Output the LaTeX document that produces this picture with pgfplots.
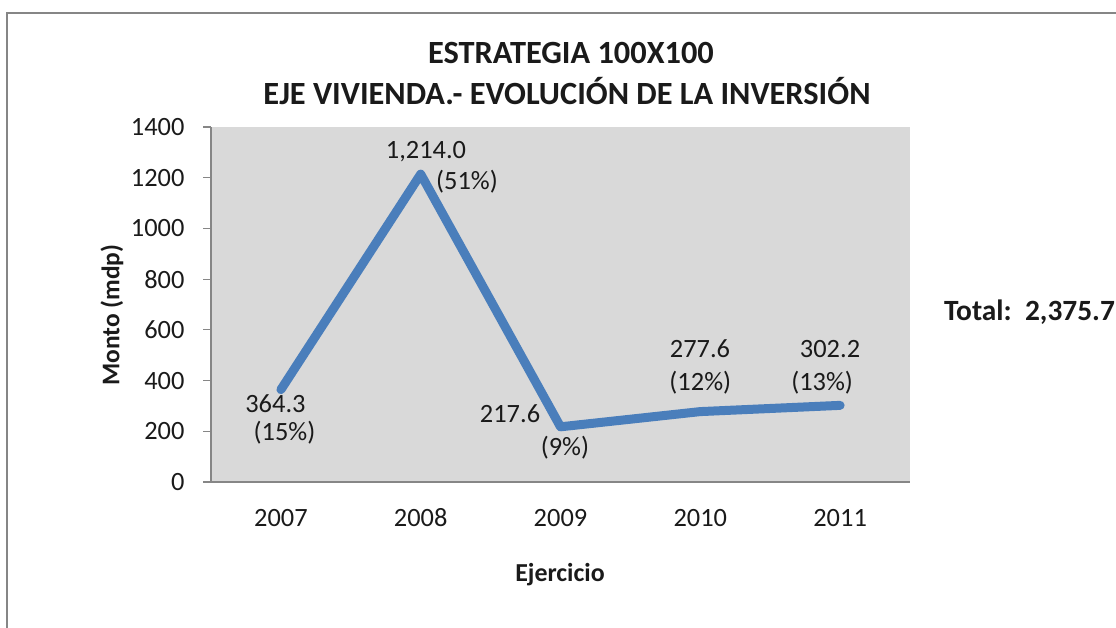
\documentclass[border=0pt]{standalone}
\usepackage{pgfplots}
\pgfplotsset{compat=1.18}
\usepackage{fontspec}
\setmainfont{Carlito}
\definecolor{lineblue}{HTML}{4A7EBB}
\definecolor{plotgray}{HTML}{D9D9D9}
\definecolor{axgray}{HTML}{868686}
\definecolor{txt}{HTML}{1A1A1A}
\begin{document}
\begin{tikzpicture}[x=1bp,y=1bp]
\path[use as bounding box] (0,0) rectangle (1116,628);
\clip (0,0) rectangle (1116,628);
\draw[axgray, line width=2bp] (7,615) rectangle (1140,-20);
\begin{axis}[
  at={(211bp,146bp)}, anchor=south west,
  scale only axis, width=699bp, height=355bp,
  xmin=0.5, xmax=5.5, ymin=0, ymax=1400,
  axis x line*=bottom, axis y line*=left,
  axis line style={axgray, line width=1.2bp},
  axis background/.style={fill=plotgray},
  xtick={1,2,3,4,5},
  xticklabels={2007,2008,2009,2010,2011},
  minor xtick={0.5,1.5,2.5,3.5,4.5,5.5},
  ytick={0,200,...,1400},
  tick align=outside,
  major tick length=8bp, minor tick length=8bp,
  xtick style={draw=none},
  minor x tick style={axgray, line width=1.2bp},
  ytick style={axgray, line width=1.2bp},
  /pgf/number format/1000 sep={},
  /pgf/number format/assume math mode=true,
  tick label style={font=\fontsize{26.5}{30}\selectfont, text=txt},
  yticklabel style={xshift=-15bp},
  xticklabel style={yshift=-15bp, text height=18bp, text depth=0bp, anchor=north},
  clip=false,
]
\addplot[lineblue, line width=9bp, line cap=round, line join=round] coordinates {
  (1,364.3) (2,1214.0) (3,217.6) (4,277.6) (5,302.2)};
\begin{scope}[every node/.style={font=\fontsize{26.5}{30}\selectfont, text=txt, inner sep=0pt}]
\node at (axis cs:0.961,307.6) {364.3};
\node at (axis cs:1.026,193.2) {(15\%)};
\node at (axis cs:2.038,1301) {1,214.0};
\node at (axis cs:2.331,1183) {(51\%)};
\node at (axis cs:2.639,268) {217.6};
\node at (axis cs:3.032,134) {(9\%)};
\node at (axis cs:3.998,524.5) {277.6};
\node at (axis cs:4.0,390) {(12\%)};
\node at (axis cs:4.928,524.5) {302.2};
\node at (axis cs:4.871,390) {(13\%)};
\end{scope}
\end{axis}
\node[font=\bfseries\fontsize{32.5}{38}\selectfont, text=txt] at (571,575) {ESTRATEGIA 100X100};
\node[font=\bfseries\fontsize{32.5}{38}\selectfont, text=txt] at (567,537) {EJE VIVIENDA.- EVOLUCIÓN DE LA INVERSIÓN};
\node[font=\bfseries\fontsize{25.5}{30}\selectfont, text=txt, rotate=90] at (112,313) {Monto (mdp)};
\node[font=\bfseries\fontsize{26}{30}\selectfont, text=txt] at (560,53) {Ejercicio};
\node[font=\bfseries\fontsize{29.5}{34}\selectfont, text=txt, anchor=west, inner sep=0pt] at (944,316) {Total:\ \ 2,375.7};
\end{tikzpicture}
\end{document}
